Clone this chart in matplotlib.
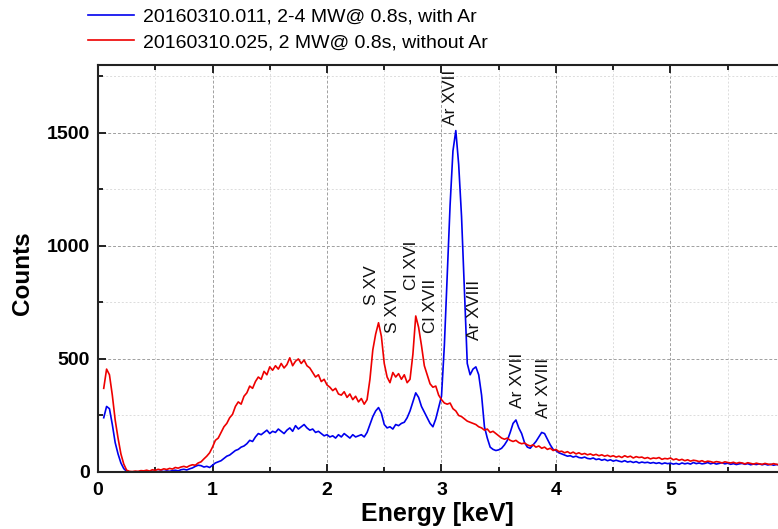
import numpy as np
import matplotlib
matplotlib.use("Agg")
import matplotlib.pyplot as plt
from matplotlib.ticker import MultipleLocator

plt.rcParams['font.family'] = ['Liberation Sans', 'DejaVu Sans']

# Energy channels (keV), 0.025 keV spacing
energy = np.round(np.arange(0.05, 6.0001, 0.025), 3)

counts_with_ar = [
    240, 290, 280, 210, 130, 80, 40, 15, 3, 0,
    0, 1, 0, 2, 1, 0, 2, 3, 1, 2,
    4, 2, 5, 3, 6, 8, 5, 10, 12, 9,
    14, 18, 25, 30, 28, 22, 25, 20, 30, 40,
    45, 50, 60, 70, 75, 85, 95, 100, 110, 115,
    125, 140, 135, 155, 170, 165, 175, 185, 170, 180,
    175, 190, 180, 170, 185, 195, 180, 205, 190, 200,
    210, 195, 185, 190, 175, 180, 170, 160, 165, 155,
    160, 150, 165, 155, 170, 160, 150, 165, 155, 160,
    165, 155, 175, 210, 245, 270, 285, 260, 210, 195,
    200, 190, 210, 205, 215, 220, 240, 270, 310, 350,
    330, 290, 265, 240, 215, 200, 235, 285, 335, 560,
    870, 1180, 1420, 1510, 1360, 1130, 800, 480, 430, 455,
    465, 430, 340, 200, 150, 110, 100, 95, 98, 105,
    120, 140, 175, 215, 230, 195, 170, 130, 110, 105,
    120, 135, 155, 175, 170, 145, 120, 100, 95, 85,
    80, 75, 70, 72, 66, 70, 64, 62, 66, 60,
    58, 62, 55, 58, 52, 56, 50, 54, 48, 52,
    48, 45, 50, 44, 47, 42, 46, 40, 44, 41,
    43, 39, 42, 38, 41, 36, 40, 37, 39, 35,
    38, 34, 40, 36, 39, 35, 42, 37, 40, 36,
    38, 42, 36, 40, 35, 38, 41, 36, 39, 34,
    37, 33, 36, 38, 34, 37, 32, 35, 33, 36,
    32, 35, 31, 34, 30, 33, 31, 29, 32,
]

counts_without_ar = [
    370, 455, 430, 340, 230, 150, 80, 35, 8, 3,
    2, 4, 3, 6, 5, 8, 4, 10, 7, 12,
    9, 14, 11, 16, 13, 20, 17, 22, 25, 21,
    28, 32, 30, 40, 45, 58, 70, 85, 110, 140,
    150, 175, 200, 215, 240, 255, 290, 310, 300, 335,
    350, 380, 370, 400, 420, 410, 445, 430, 465, 450,
    470, 455, 480, 460, 475, 505, 470, 490, 500, 480,
    495, 470, 460, 440, 420, 430, 400, 410, 385, 375,
    360, 370, 345, 340, 355, 330, 345, 320, 335, 310,
    325, 300, 320, 410, 540, 610, 660, 600, 480, 420,
    395, 440, 420, 435, 410, 430, 395, 410, 520, 690,
    640, 560, 470, 430, 390, 375, 380, 340, 320, 305,
    300, 305, 280, 270, 250, 245, 235, 225, 220, 215,
    210, 200, 195, 185, 190, 175, 180, 170, 160, 150,
    145, 150, 140, 135, 140, 130, 125, 128, 120, 115,
    120, 110, 115, 105, 110, 100, 105, 95, 100, 90,
    92, 85, 90, 82, 88, 80, 85, 78, 82, 76,
    80, 74, 78, 72, 76, 70, 74, 68, 72, 66,
    70, 64, 72, 66, 70, 62, 68, 64, 66, 60,
    64, 58, 62, 60, 64, 56, 60, 58, 62, 54,
    58, 52, 56, 50, 54, 48, 52, 50, 46, 50,
    44, 48, 46, 42, 46, 44, 40, 45, 42, 40,
    43, 38, 42, 40, 36, 41, 38, 35, 39, 36,
    34, 38, 35, 33, 37, 34, 32, 36, 33,
]

series_labels = [
    "20160310.011, 2-4 MW@ 0.8s, with Ar",
    "20160310.025, 2 MW@ 0.8s, without Ar",
]

line_labels = ["S XV", "S XVI", "Cl XVI", "Cl XVII", "Ar XVII",
               "Ar XVIII", "Ar XVII", "Ar XVIII"]
line_energy = [2.39, 2.57, 2.74, 2.90, 3.075, 3.29, 3.66, 3.89]
line_label_base = [739, 615, 805, 615, 1535, 584, 283, 239]

fig = plt.figure(figsize=(7.78, 5.29), dpi=100)
W, H = 778, 529
px_per_kev = 114.5
ax = fig.add_axes([98 / W, 57 / H, 6.5 * px_per_kev / W, 407 / H])

l1, = ax.plot(energy, counts_with_ar, color='#0000ee', lw=1.2)
l2, = ax.plot(energy, counts_without_ar, color='#ee0000', lw=1.2)

ax.set_xlim(0, 6.5)
ax.set_ylim(0, 1800)
ax.xaxis.set_major_locator(MultipleLocator(1))
ax.xaxis.set_minor_locator(MultipleLocator(0.5))
ax.yaxis.set_major_locator(MultipleLocator(500))
ax.yaxis.set_minor_locator(MultipleLocator(250))

ax.grid(which='major', color='#a0a0a0', linestyle=(0, (3, 2)), lw=0.7)
ax.grid(which='minor', color='#dcdcdc', linestyle=(0, (2, 2)), lw=0.7)
ax.set_axisbelow(True)

for s in ax.spines.values():
    s.set_linewidth(1.5)
    s.set_color('#222222')

ax.tick_params(which='both', direction='in', top=True, right=False, width=1.4,
               color='#222222')
ax.tick_params(which='major', length=6)
ax.tick_params(which='minor', length=3.5)
ax.tick_params(axis='x', which='major', pad=7)
ax.tick_params(axis='y', which='major', pad=6)
for lab in ax.get_xticklabels() + ax.get_yticklabels():
    lab.set_fontsize(14)
    lab.set_fontweight('bold')

for lbl, e, c in zip(line_labels, line_energy, line_label_base):
    ax.text(e, c, lbl, rotation=90, ha='center', va='bottom', fontsize=12.5,
            color='#111111')

fig.text(437 / W, 1 - 514 / H, "Energy [keV]", ha='center', va='center',
         fontsize=18, fontweight='bold')
fig.text(22 / W, 1 - 273 / H, "Counts", ha='center', va='center',
         rotation=90, fontsize=17.5, fontweight='bold')

fig.legend([l1, l2], series_labels, loc='upper left',
           bbox_to_anchor=(88 / W, 1 - 8 / H), frameon=False, fontsize=14,
           handlelength=2.35, handletextpad=0.5, labelspacing=0.4,
           borderpad=0, borderaxespad=0)

fig.savefig("out.png", dpi=100)
